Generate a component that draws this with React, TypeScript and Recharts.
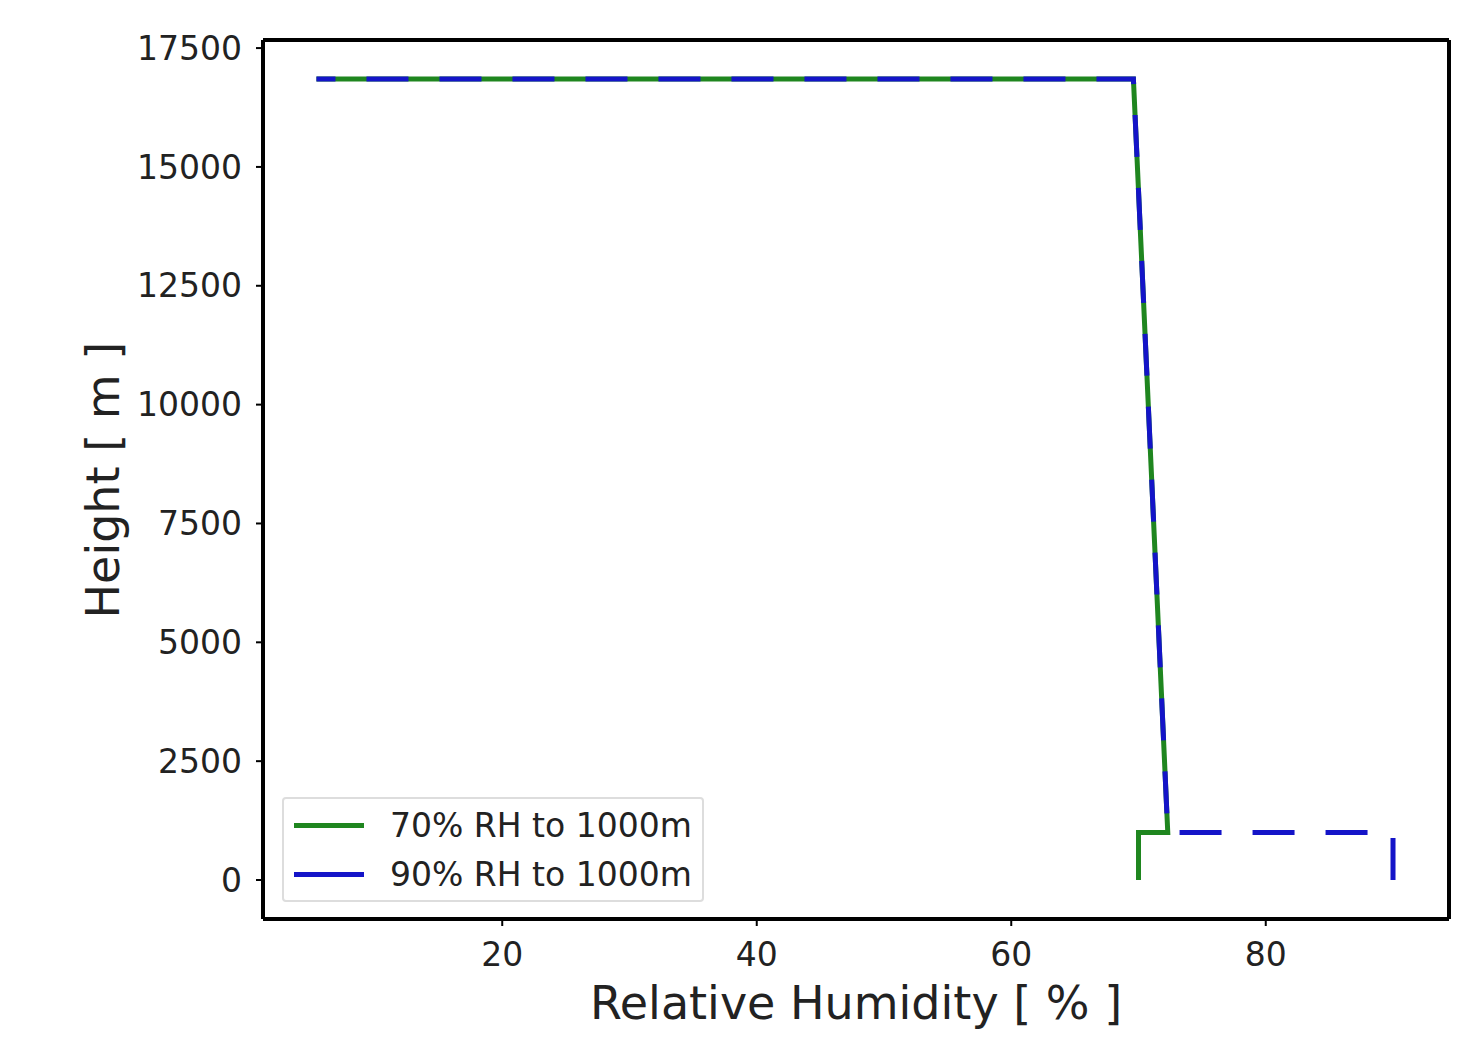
import React from "react";
import { LineChart, Line, XAxis, YAxis } from "recharts";

// relative humidity profiles (x = RH %, y = height m)
const rh70 = [70, 70, 72.3, 69.6, 5.4];
const rh90 = [90, 90, 72.3, 69.6, 5.4];
const heights = [0, 1000, 1000, 16850, 16850];

const xTicks = [20, 40, 60, 80];
const yTicks = [0, 2500, 5000, 7500, 10000, 12500, 15000, 17500];

const SERIES = [
  { name: "70% RH to 1000m", color: "#1f861f", rh: rh70, dash: undefined as string | undefined },
  { name: "90% RH to 1000m", color: "#1414c8", rh: rh90, dash: "42 31" },
];

const FONT = "'DejaVu Sans', sans-serif";

function LegendBox() {
  return (
    <div
      style={{
        position: "absolute",
        left: 282,
        top: 797,
        border: "2px solid #ddd",
        borderRadius: 4,
        background: "#fff",
        width: 422,
        height: 105,
        boxSizing: "border-box",
        fontFamily: FONT,
        fontSize: 33,
        color: "#222",
        paddingTop: 2,
      }}
    >
      {SERIES.map((s) => (
        <div key={s.name} style={{ display: "flex", alignItems: "center", height: 49 }}>
          <div style={{ width: 70, height: 5, background: s.color, marginLeft: 10, marginRight: 26 }} />
          <span>{s.name}</span>
        </div>
      ))}
    </div>
  );
}

export default function App() {
  const data = SERIES.map((s) => s.rh.map((x, i) => ({ rh: x, h: heights[i] })));
  return (
    <div style={{ position: "absolute", left: 0, top: 0, width: 1474, height: 1040, background: "#fff" }}>
      <LineChart width={1474} height={1040} margin={{ top: 39, right: 24, bottom: 41, left: 133 }}>
        <XAxis
          xAxisId="b"
          type="number"
          dataKey="rh"
          domain={[1.2, 94.4]}
          ticks={xTicks}
          allowDataOverflow
          height={80}
          axisLine={{ stroke: "#000", strokeWidth: 4 }}
          tickLine={{ stroke: "#000", strokeWidth: 2 }}
          tickSize={7}
          tick={{ fill: "#222", fontSize: 33, fontFamily: FONT, dy: 15 }}
          label={{ value: "Relative Humidity [ % ]", position: "insideBottom", offset: -20, fill: "#222", fontSize: 46, fontFamily: FONT }}
        />
        <XAxis xAxisId="t" orientation="top" type="number" domain={[1.2, 94.4]} height={1} tick={false} tickLine={false} axisLine={{ stroke: "#000", strokeWidth: 4 }} />
        <YAxis
          yAxisId="l"
          type="number"
          domain={[-820, 17670]}
          ticks={yTicks}
          allowDataOverflow
          width={130}
          axisLine={{ stroke: "#000", strokeWidth: 4 }}
          tickLine={{ stroke: "#000", strokeWidth: 2 }}
          tickSize={7}
          tick={{ fill: "#222", fontSize: 33, fontFamily: FONT, dx: -12 }}
          label={{ value: "Height [ m ]", angle: -90, position: "insideLeft", offset: -30, dy: 139, fill: "#222", fontSize: 46, fontFamily: FONT }}
        />
        <YAxis yAxisId="r" orientation="right" type="number" domain={[-820, 17670]} width={1} tick={false} tickLine={false} axisLine={{ stroke: "#000", strokeWidth: 4 }} />
        {SERIES.map((s, i) => (
          <Line
            key={s.name}
            xAxisId="b"
            yAxisId="l"
            data={data[i]}
            dataKey="h"
            name={s.name}
            type="linear"
            stroke={s.color}
            strokeWidth={5}
            strokeDasharray={s.dash}
            dot={false}
            isAnimationActive={false}
          />
        ))}
      </LineChart>
      <LegendBox />
    </div>
  );
}
